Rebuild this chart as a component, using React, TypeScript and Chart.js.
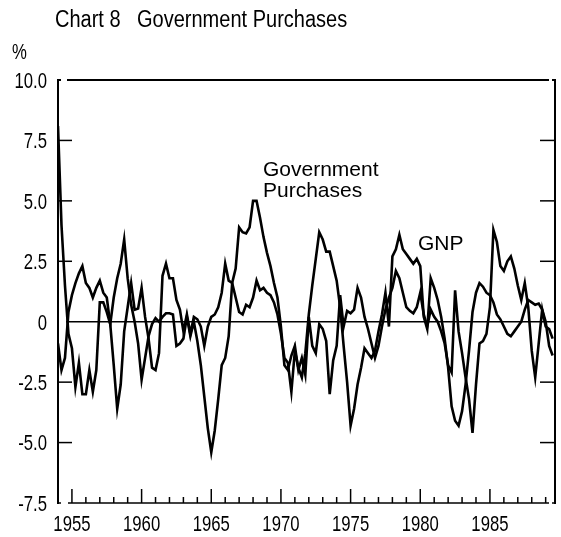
import React, { useEffect, useRef } from 'react';
import { Chart, registerables } from 'chart.js';

Chart.register(...registerables);

// ---- data (quarterly, starting 1954 Q1) ----
const START_YEAR = 1954;

const GOV_PURCHASES = [
  8.1, 4.0, 1.5, -0.5,
  -1.1, -2.7, -1.7, -3.0,
  -3.0, -2.0, -2.9, -2.0,
  0.8, 0.8, 0.4, -0.1,
  1.0, 1.8, 2.4, 3.4,
  1.8, 0.7, 0.0, -0.9,
  -2.4, -1.5, -0.6, -0.1,
  0.15, 0.0, 0.2, 0.35,
  0.35, 0.3, -1.0, -0.9,
  -0.7, 0.2, -0.6, 0.0,
  -0.8, -1.8, -3.1, -4.4,
  -5.4, -4.5, -3.2, -1.8,
  -1.5, -0.6, 1.6, 2.2,
  3.9, 3.7, 3.65, 3.9,
  5.0, 5.0, 4.3, 3.5,
  2.85, 2.3, 1.6, 1.0,
  -0.2, -1.8, -2.0, -1.4,
  -1.0, -2.0, -1.5, -2.2,
  0.2, -1.0, -1.3, -0.1,
  -0.3, -0.8, -3.0, -1.6,
  -1.0, 1.1, -0.2, 0.45,
  0.35, 0.5, 1.4, 1.0,
  0.2, -0.3, -0.9, -1.5,
  -1.0, -0.2, 0.5, 1.0,
  1.4, 2.1, 1.8, 1.2,
  0.6, 0.45, 0.35, 0.6,
  1.2, 0.3, -0.2, 0.5,
  0.2, 0.0, -0.4, -0.9,
  -1.8, -2.1, 1.3, -0.4,
  -1.3, -2.3, -3.2, -4.6,
  -2.6, -0.9, -0.8, -0.5,
  0.6, 3.8, 3.3, 2.3,
  2.1, 2.5, 2.7, 2.2,
  1.5, 0.9, 1.6, 0.6,
  -1.2, -2.3, -0.9, 0.5,
  -0.2, -0.3, -0.7,
];

const GNP = [
  -0.9, -2.0, -1.5, 0.4,
  1.1, 1.6, 2.0, 2.3,
  1.6, 1.4, 1.0, 1.4,
  1.7, 1.2, 1.0, -0.1,
  -1.8, -3.6, -2.6, -0.4,
  0.6, 1.6, 0.5, 0.55,
  1.4, 0.2, -0.7, -1.9,
  -2.0, -1.3, 1.9, 2.4,
  1.8, 1.8, 0.9, 0.5,
  -0.4, 0.3, -0.5, 0.2,
  0.1, -0.2, -1.0, -0.2,
  0.2, 0.3, 0.6, 1.2,
  2.4, 1.7, 1.6, 1.0,
  0.4, 0.3, 0.7, 0.6,
  1.0, 1.7, 1.3, 1.4,
  1.2, 1.1, 0.8, 0.3,
  -0.5, -1.5, -1.7, -2.9,
  -1.2, -1.9, -2.3, -1.3,
  0.3, 1.5, 2.6, 3.7,
  3.4, 2.9, 2.9, 2.3,
  1.7, 0.6, -1.0, -2.5,
  -4.3, -3.6, -2.6, -1.9,
  -1.1, -1.3, -1.5, -1.2,
  -0.4, 0.3, 1.2, -0.2,
  2.7, 3.0, 3.6, 3.0,
  2.8, 2.6, 2.4, 2.6,
  2.3, 0.2, -0.3, 1.8,
  1.4, 0.9, 0.2, -0.7,
  -1.9, -3.5, -4.1, -4.3,
  -3.7, -2.6, -1.2, 0.4,
  1.2, 1.6, 1.45, 1.2,
  1.1, 0.8, 0.3, 0.1,
  -0.2, -0.5, -0.6, -0.4,
  -0.2, 0.0, 0.5, 0.9,
  0.8, 0.7, 0.75, 0.5,
  0.0, -1.0, -1.4,
];

const X_LABEL_YEARS = [1955, 1960, 1965, 1970, 1975, 1980, 1985];
const X_MINOR_YEARS = [
  1955, 1956, 1957, 1958, 1959, 1960, 1961, 1962, 1963, 1964,
  1965, 1966, 1967, 1968, 1969, 1970, 1971, 1972, 1973, 1974,
  1975, 1976, 1977, 1978, 1979, 1980, 1981, 1982, 1983, 1984,
  1985, 1986, 1987, 1988, 1989,
];
const X_MIN = 1954;
const X_MAX = 1989.67;

const Y_TICKS = [-7.5, -5, -2.5, 0, 2.5, 5, 7.5, 10];
const Y_TICK_LABELS = ['-7.5', '-5.0', '-2.5', '0', '2.5', '5.0', '7.5', '10.0'];

const TITLE_NUMBER = 'Chart 8';
const TITLE_TEXT = 'Government Purchases';
const UNIT_LABEL = '%';
const GOV_LABEL_LINES = ['Government', 'Purchases'];
const GNP_LABEL = 'GNP';

function toPoints(values: number[]) {
  return values.map((v, i) => ({ x: START_YEAR + i / 4, y: v }));
}

const SANS = '"Liberation Sans", Arial, sans-serif';

function condensedText(
  ctx: CanvasRenderingContext2D,
  text: string,
  x: number,
  y: number,
  align: CanvasTextAlign,
  k: number,
) {
  ctx.save();
  ctx.translate(x, y);
  ctx.scale(k, 1);
  ctx.textAlign = align;
  ctx.fillText(text, 0, 0);
  ctx.restore();
}

export default function App() {
  const canvasRef = useRef<HTMLCanvasElement | null>(null);

  useEffect(() => {
    const canvas = canvasRef.current;
    if (!canvas) return;

    const TICK_SIZE = 22;
    const TICK_K = 0.76;

    const decor = {
      id: 'decor',
      beforeDatasetsDraw(chart: any) {
        const { ctx, chartArea: a, scales } = chart;
        const xs = scales.x;
        const ys = scales.y;
        ctx.save();
        ctx.strokeStyle = '#000';
        ctx.lineCap = 'butt';
        const seg = (x1: number, y1: number, x2: number, y2: number, w: number) => {
          ctx.lineWidth = w;
          ctx.beginPath();
          ctx.moveTo(x1, y1);
          ctx.lineTo(x2, y2);
          ctx.stroke();
        };
        // zero line
        const y0 = ys.getPixelForValue(0);
        seg(a.left + 8, y0, a.right, y0, 1.5);
        // frame
        seg(a.left, a.top - 1, a.left, a.bottom + 1, 2);
        seg(a.right, a.top - 1, a.right, a.bottom + 1, 2);
        seg(a.left - 1, a.top, a.left + 3, a.top, 2);
        seg(a.left + 9, a.top, a.right - 6, a.top, 2);
        seg(a.right - 3, a.top, a.right + 1, a.top, 2);
        seg(a.left - 1, a.bottom, a.left + 3, a.bottom, 1.5);
        seg(a.left + 10, a.bottom, a.right - 6, a.bottom, 1.5);
        seg(a.right - 3, a.bottom, a.right + 1, a.bottom, 1.5);
        // y ticks (inward on both sides)
        for (const v of Y_TICKS) {
          if (v === Y_TICKS[0] || v === Y_TICKS[Y_TICKS.length - 1] || v === 0) continue;
          const py = ys.getPixelForValue(v);
          seg(a.left, py, a.left + 14, py, 1.5);
          seg(a.right - 15, py, a.right, py, 1.5);
        }
        // x ticks (inward)
        for (const yr of X_MINOR_YEARS) {
          const px = xs.getPixelForValue(yr);
          const len = X_LABEL_YEARS.includes(yr) ? 14 : 6;
          seg(px, a.bottom, px, a.bottom - len, 1.5);
        }
        ctx.restore();
      },
      afterDraw(chart: any) {
        const { ctx, scales } = chart;
        const xs = scales.x;
        const ys = scales.y;
        ctx.save();
        ctx.fillStyle = '#000';
        ctx.textBaseline = 'alphabetic';

        // axis tick labels, positioned through the chart's scales
        ctx.font = `${TICK_SIZE}px ${SANS}`;
        const cap = TICK_SIZE * 0.716;
        for (const t of ys.ticks) {
          const i = Y_TICKS.indexOf(t.value);
          if (i < 0) continue;
          const py = ys.getPixelForValue(t.value);
          condensedText(ctx, Y_TICK_LABELS[i], 47, py + cap / 2, 'right', TICK_K);
        }
        for (const t of xs.ticks) {
          if (!X_LABEL_YEARS.includes(t.value)) continue;
          const px = xs.getPixelForValue(t.value);
          condensedText(ctx, String(t.value), px, 531, 'center', TICK_K);
        }

        // unit
        condensedText(ctx, UNIT_LABEL, 12, 59, 'left', TICK_K);

        // title
        ctx.font = `23px ${SANS}`;
        condensedText(ctx, TITLE_NUMBER, 55, 27, 'left', 0.87);
        condensedText(ctx, TITLE_TEXT, 137, 27, 'left', 0.87);

        // series labels
        ctx.font = `21px ${SANS}`;
        ctx.textAlign = 'left';
        ctx.fillText(GOV_LABEL_LINES[0], 263, 176);
        ctx.fillText(GOV_LABEL_LINES[1], 263, 197);
        ctx.fillText(GNP_LABEL, 418, 250);
        ctx.restore();
      },
    };

    const chart = new Chart(canvas, {
      type: 'line',
      data: {
        datasets: [
          {
            label: 'Government Purchases',
            data: toPoints(GOV_PURCHASES),
            borderColor: '#000',
            borderWidth: 2.6,
            pointRadius: 0,
            tension: 0,
            fill: false,
          },
          {
            label: 'GNP',
            data: toPoints(GNP),
            borderColor: '#000',
            borderWidth: 2.6,
            pointRadius: 0,
            tension: 0,
            fill: false,
          },
        ],
      },
      options: {
        responsive: false,
        animation: false,
        devicePixelRatio: 1,
        layout: { padding: { top: 80, right: 6, left: 0, bottom: 0 } },
        plugins: {
          legend: { display: false },
          tooltip: { enabled: false },
          title: { display: false },
        },
        scales: {
          x: {
            type: 'linear',
            min: X_MIN,
            max: X_MAX,
            afterBuildTicks: (axis: any) => {
              axis.ticks = X_LABEL_YEARS.map((v) => ({ value: v }));
            },
            afterFit: (scale: any) => {
              scale.height = 34;
            },
            ticks: { display: false },
            grid: { display: false, drawTicks: false },
            border: { display: false },
          },
          y: {
            type: 'linear',
            min: Y_TICKS[0],
            max: Y_TICKS[Y_TICKS.length - 1],
            afterBuildTicks: (axis: any) => {
              axis.ticks = Y_TICKS.map((v) => ({ value: v }));
            },
            afterFit: (scale: any) => {
              scale.width = 58;
            },
            ticks: { display: false },
            grid: { display: false, drawTicks: false },
            border: { display: false },
          },
        },
      },
      plugins: [decor],
    });

    return () => {
      chart.destroy();
    };
  }, []);

  return (
    <div style={{ position: 'fixed', left: 0, top: 0, width: 561, height: 537, background: '#fff' }}>
      <canvas ref={canvasRef} width={561} height={537} style={{ display: 'block', width: 561, height: 537 }} />
    </div>
  );
}
